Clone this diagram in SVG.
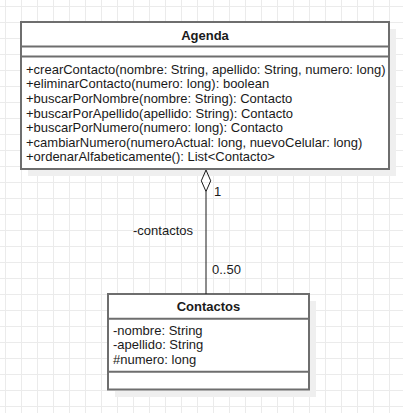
<svg xmlns="http://www.w3.org/2000/svg" width="403" height="413" viewBox="0 0 403 413">
<defs>
<pattern id="grid" x="5" y="6" width="16" height="16" patternUnits="userSpaceOnUse">
<path d="M0.5 0 V16 M0 0.5 H16" fill="none" stroke="#ebebeb" stroke-width="1"/>
</pattern>
<style>
.box{fill:#ffffff;stroke:#6e6e6e;stroke-width:2}
.shadow{fill:#efefef}
.div{stroke:#6e6e6e;stroke-width:2}
text{font-family:"Liberation Sans",Arial,sans-serif;font-size:13px;fill:#1a1a1a}
.title{font-weight:bold;text-anchor:middle}
.edge{stroke:#1a1a1a;stroke-width:1;fill:none}
</style>
</defs>
<rect width="403" height="413" fill="#ffffff"/>
<rect width="403" height="413" fill="url(#grid)"/>
<g id="Agenda">
<rect class="shadow" x="28" y="29" width="368" height="147"/>
<rect class="box" x="21" y="22" width="368" height="147"/>
<line class="div" x1="21" y1="46.5" x2="389" y2="46.5"/>
<line class="div" x1="21" y1="56.5" x2="389" y2="56.5"/>
<text class="title" x="205" y="39.5">Agenda</text>
<text x="26" y="73.8">+crearContacto(nombre: String, apellido: String, numero: long)</text>
<text x="26" y="88.4">+eliminarContacto(numero: long): boolean</text>
<text x="26" y="103">+buscarPorNombre(nombre: String): Contacto</text>
<text x="26" y="117.6">+buscarPorApellido(apellido: String): Contacto</text>
<text x="26" y="132.2">+buscarPorNumero(numero: long): Contacto</text>
<text x="26" y="146.8">+cambiarNumero(numeroActual: long, nuevoCelular: long)</text>
<text x="26" y="161.4">+ordenarAlfabeticamente(): List&lt;Contacto&gt;</text>
</g>
<g id="Contactos">
<rect class="shadow" x="115" y="301" width="201" height="96"/>
<rect class="box" x="108" y="294" width="201" height="95.5"/>
<line class="div" x1="108" y1="318.7" x2="309" y2="318.7"/>
<line class="div" x1="108" y1="371.7" x2="309" y2="371.7"/>
<text class="title" x="208.5" y="310.5">Contactos</text>
<text x="113" y="334.5">-nombre: String</text>
<text x="113" y="349">-apellido: String</text>
<text x="113" y="363.5">#numero: long</text>
</g>
<g id="connectors">
<line class="edge" x1="206" y1="191.5" x2="206" y2="294"/>
<path class="edge" d="M206 170 L210.7 180.8 L206 191.5 L201.3 180.8 Z" fill="#ffffff"/>
<text x="214" y="195.5">1</text>
<text x="133" y="234.5">-contactos</text>
<text x="212" y="274">0..50</text>
</g>
</svg>
